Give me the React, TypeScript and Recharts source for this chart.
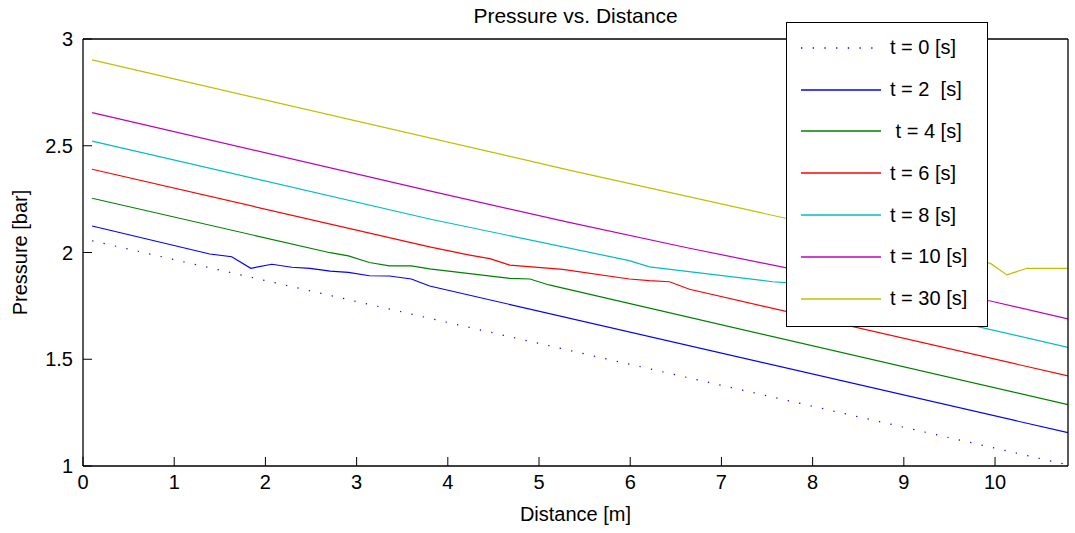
import React from "react";
import { LineChart, Line, XAxis, YAxis, Legend, Label } from "recharts";

const distanceTicks = [0, 1, 2, 3, 4, 5, 6, 7, 8, 9, 10];
const pressureTicks = [1, 1.5, 2, 2.5, 3];

const seriesNames = ["t = 0 [s]", "t = 2  [s]", " t = 4 [s]", "t = 6 [s]", "t = 8 [s]", "t = 10 [s]", "t = 30 [s]"];
const seriesColors = ["#0000ff", "#0000ff", "#008000", "#ff0000", "#00bfbf", "#bf00bf", "#bfbf00"];
const seriesDash = ["1.3 10.4", undefined, undefined, undefined, undefined, undefined, undefined];

// pressure [bar] vs distance [m] at the visible bends
const t0 = [
  { d: 0.1, p: 2.055 },
  { d: 10.8, p: 1.005 },
];
const t2 = [
  { d: 0.1, p: 2.124 },
  { d: 1.39, p: 1.993 },
  { d: 1.63, p: 1.98 },
  { d: 1.84, p: 1.926 },
  { d: 2.07, p: 1.945 },
  { d: 2.29, p: 1.931 },
  { d: 2.49, p: 1.926 },
  { d: 2.71, p: 1.913 },
  { d: 2.91, p: 1.907 },
  { d: 3.14, p: 1.891 },
  { d: 3.36, p: 1.89 },
  { d: 3.6, p: 1.876 },
  { d: 3.8, p: 1.843 },
  { d: 10.8, p: 1.156 },
];
const t4 = [
  { d: 0.1, p: 2.254 },
  { d: 2.71, p: 1.999 },
  { d: 2.91, p: 1.984 },
  { d: 3.14, p: 1.953 },
  { d: 3.36, p: 1.937 },
  { d: 3.6, p: 1.937 },
  { d: 3.8, p: 1.923 },
  { d: 4.68, p: 1.879 },
  { d: 4.9, p: 1.876 },
  { d: 5.11, p: 1.848 },
  { d: 10.8, p: 1.287 },
];
const t6 = [
  { d: 0.1, p: 2.39 },
  { d: 3.8, p: 2.026 },
  { d: 4.24, p: 1.988 },
  { d: 4.46, p: 1.971 },
  { d: 4.68, p: 1.941 },
  { d: 5.26, p: 1.921 },
  { d: 5.99, p: 1.876 },
  { d: 6.21, p: 1.868 },
  { d: 6.43, p: 1.863 },
  { d: 6.65, p: 1.828 },
  { d: 10.8, p: 1.422 },
];
const t8 = [
  { d: 0.1, p: 2.522 },
  { d: 3.8, p: 2.157 },
  { d: 5.99, p: 1.962 },
  { d: 6.21, p: 1.933 },
  { d: 7.56, p: 1.863 },
  { d: 7.71, p: 1.859 },
  { d: 10.8, p: 1.556 },
];
const t10 = [
  { d: 0.1, p: 2.655 },
  { d: 3.8, p: 2.289 },
  { d: 5.33, p: 2.141 },
  { d: 6.65, p: 2.02 },
  { d: 7.74, p: 1.926 },
  { d: 9.95, p: 1.773 },
  { d: 10.8, p: 1.689 },
];
const t30 = [
  { d: 0.1, p: 2.902 },
  { d: 5.33, p: 2.386 },
  { d: 7.74, p: 2.157 },
  { d: 9.95, p: 1.949 },
  { d: 10.13, p: 1.895 },
  { d: 10.35, p: 1.926 },
  { d: 10.8, p: 1.926 },
];
const seriesData = [t0, t2, t4, t6, t8, t10, t30];

const FONT = "'Liberation Sans', Arial, Helvetica, sans-serif";
const tickStyle = { fontSize: 20, fill: "#000", fontFamily: FONT };

function LegendBox() {
  return (
    <div
      style={{
        width: 200,
        height: 299,
        background: "#fff",
        border: "1.5px solid #000",
        boxSizing: "content-box",
        paddingTop: 4,
        fontFamily: FONT,
        fontSize: 20,
        color: "#000",
      }}
    >
      {seriesNames.map((name, i) => (
        <div key={name} style={{ height: 41.8, display: "flex", alignItems: "center" }}>
          <svg width={80} height={4} style={{ marginLeft: 14, marginRight: 9, flex: "none" }}>
            <line
              x1={0}
              y1={2}
              x2={80}
              y2={2}
              stroke={seriesColors[i]}
              strokeWidth={1.3}
              strokeDasharray={seriesDash[i]}
            />
          </svg>
          <span style={{ whiteSpace: "pre" }}>{name}</span>
        </div>
      ))}
    </div>
  );
}

function PressureLabel({ viewBox }: any) {
  const cy = viewBox.y + viewBox.height / 2;
  return (
    <text
      x={27}
      y={cy}
      transform={`rotate(-90, 27, ${cy})`}
      textAnchor="middle"
      fontSize={20}
      fontFamily={FONT}
      fill="#000"
    >
      Pressure [bar]
    </text>
  );
}

export default function App() {
  return (
    <div style={{ position: "absolute", left: 0, top: 0, width: 1075, height: 533, background: "#fff", fontFamily: FONT }}>
      <LineChart width={1075} height={533} margin={{ top: 38, right: 6, bottom: 7, left: 0 }}>
        <XAxis
          dataKey="d"
          type="number"
          domain={[0, 10.8]}
          ticks={distanceTicks}
          height={60}
          tickSize={-9}
          tickMargin={18}
          tick={tickStyle}
          tickLine={{ stroke: "#000", strokeWidth: 1 }}
          stroke="#000"
          strokeWidth={1.3}
          allowDataOverflow
        >
          <Label value="Distance [m]" position="insideBottom" offset={5} fontSize={20} fill="#000" fontFamily={FONT} />
        </XAxis>
        <XAxis
          xAxisId="top"
          dataKey="d"
          orientation="top"
          type="number"
          domain={[0, 10.8]}
          ticks={distanceTicks}
          height={1}
          tickSize={-9}
          tick={false}
          tickLine={{ stroke: "#000", strokeWidth: 1 }}
          stroke="#000"
          strokeWidth={1.3}
          allowDataOverflow
        >
          <Label value="Pressure vs. Distance" position="top" offset={15} fontSize={21} fill="#000" fontFamily={FONT} />
        </XAxis>
        <YAxis
          type="number"
          domain={[1, 3]}
          ticks={pressureTicks}
          width={83}
          tickSize={-9}
          tickMargin={19}
          tick={tickStyle}
          tickLine={{ stroke: "#000", strokeWidth: 1 }}
          stroke="#000"
          strokeWidth={1.3}
          allowDataOverflow
        >
          <Label content={<PressureLabel />} />
        </YAxis>
        <YAxis
          yAxisId="right"
          orientation="right"
          type="number"
          domain={[1, 3]}
          ticks={pressureTicks}
          width={1}
          tickSize={-9}
          tick={false}
          tickLine={{ stroke: "#000", strokeWidth: 1 }}
          stroke="#000"
          strokeWidth={1.3}
          allowDataOverflow
        />
        {seriesData.map((pts, i) => (
          <Line
            key={seriesNames[i]}
            data={pts}
            dataKey="p"
            name={seriesNames[i]}
            type="linear"
            stroke={seriesColors[i]}
            strokeWidth={1.2}
            strokeDasharray={seriesDash[i]}
            dot={false}
            activeDot={false}
            isAnimationActive={false}
          />
        ))}
        {/* hidden series so the top and right frame axes get drawn */}
        <Line
          xAxisId="top"
          yAxisId="right"
          data={t0}
          dataKey="p"
          stroke="none"
          dot={false}
          activeDot={false}
          legendType="none"
          isAnimationActive={false}
        />
        <Legend
          layout="vertical"
          align="center"
          verticalAlign="middle"
          wrapperStyle={{ left: 786, top: 22, width: 203 }}
          content={() => <LegendBox />}
        />
      </LineChart>
    </div>
  );
}
